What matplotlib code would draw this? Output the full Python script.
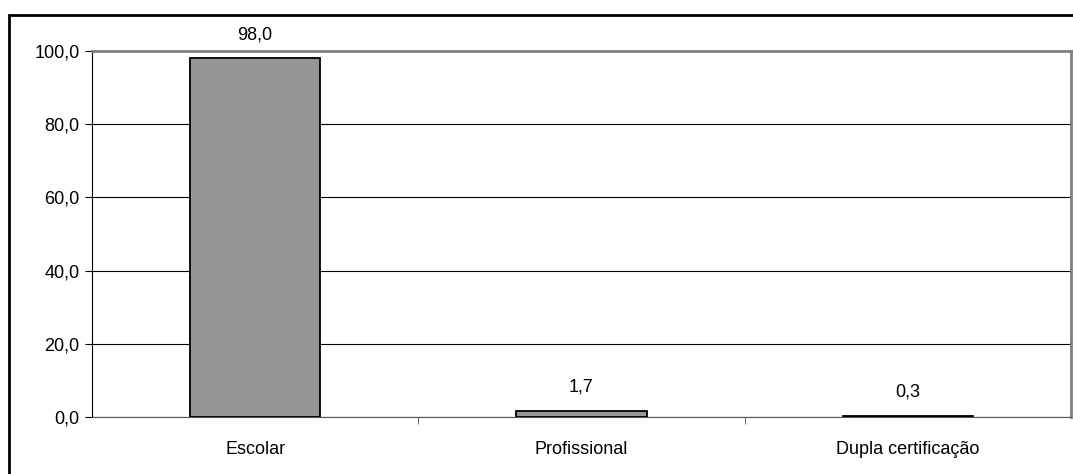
import matplotlib.pyplot as plt
from matplotlib.patches import Rectangle
from matplotlib.ticker import FixedLocator, FuncFormatter

plt.rcParams['font.family'] = ['Liberation Sans', 'DejaVu Sans']

categorias = ['Escolar', 'Profissional', 'Dupla certificação']
valores = [98.0, 1.7, 0.3]
y_ticks = [0, 20, 40, 60, 80, 100]

fig = plt.figure(figsize=(10.73, 4.74), dpi=100)
ax = fig.add_axes([92 / 1073, 1 - 417 / 474, (1071 - 92) / 1073, (417 - 51) / 474])

x = list(range(len(categorias)))
bars = ax.bar(x, valores, width=0.4, color='#969696', edgecolor='black', linewidth=1.3, zorder=3)

for b, v in zip(bars, valores):
    ax.annotate(f'{v:.1f}'.replace('.', ','), (b.get_x() + b.get_width() / 2, v),
                xytext=(0, 11), textcoords='offset points', ha='center', va='bottom', fontsize=13)

ax.set_xlim(-0.5, len(categorias) - 0.5)
ax.set_ylim(0, 100)
ax.set_yticks(y_ticks)
ax.yaxis.set_major_formatter(FuncFormatter(lambda v, p: f'{v:.1f}'.replace('.', ',')))
ax.grid(axis='y', color='black', linewidth=0.8, zorder=0)

# category labels centred, tick marks on the boundaries between categories
ax.set_xticks(x)
ax.set_xticklabels(categorias, fontsize=13)
ax.tick_params(axis='x', length=0, pad=17)
ax.xaxis.set_minor_locator(FixedLocator([0.5, 1.5]))
ax.tick_params(axis='x', which='minor', length=5, direction='out', color='#555555')
ax.tick_params(axis='y', length=5, direction='out', labelsize=13, pad=4)

for side in ['top', 'right']:
    ax.spines[side].set_color('#808080')
    ax.spines[side].set_linewidth(2)
ax.spines['left'].set_color('black')
ax.spines['bottom'].set_color('#555555')

# outer chart frame, running off the right and bottom edges
frame = Rectangle((9 / 1073, -0.2), 1.2, 1 - 15 / 474 + 0.2, transform=fig.transFigure,
                  fill=False, edgecolor='black', linewidth=2, clip_on=False)
fig.patches.append(frame)

fig.savefig('out.png', dpi=100)
